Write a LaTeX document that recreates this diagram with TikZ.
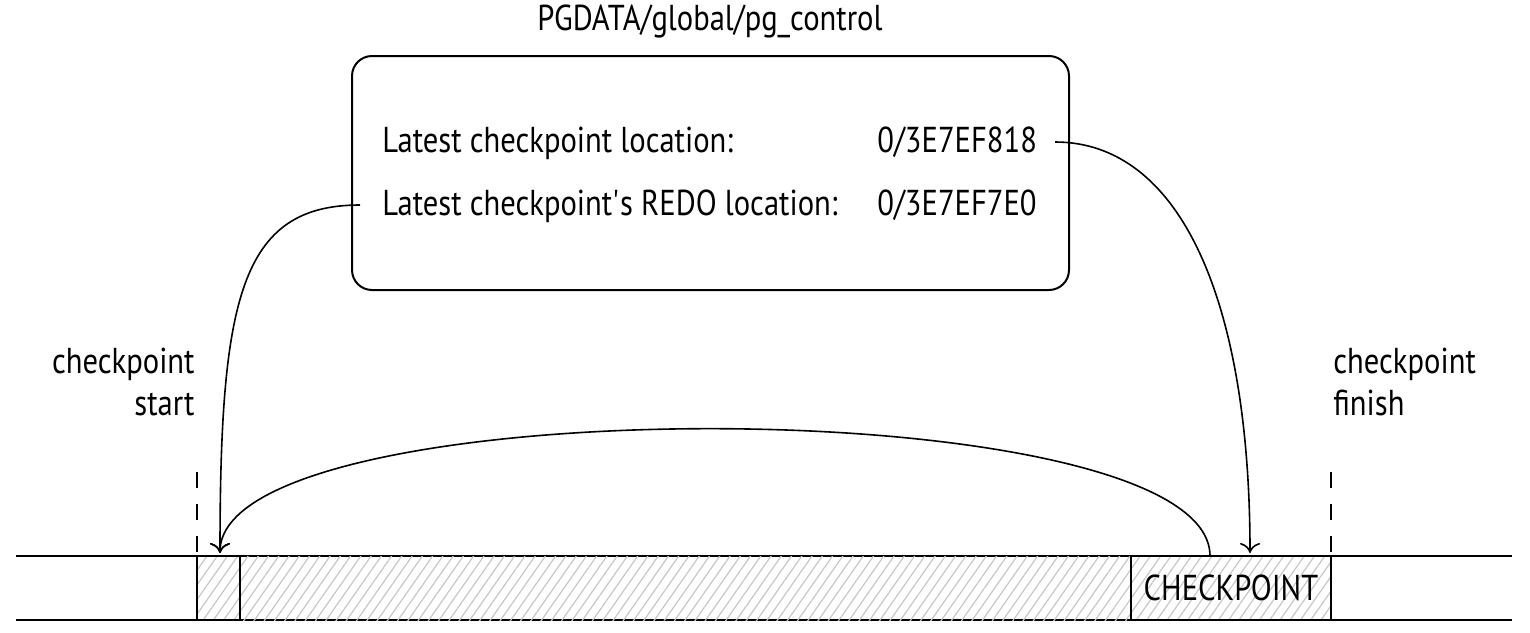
\documentclass[tikz,border=0pt]{standalone}
\usepackage{fontspec}
\setmainfont{PT Sans}[FakeStretch=0.85]
\usetikzlibrary{arrows.meta,patterns.meta}
\tikzset{
  txt/.style={inner sep=0pt, font=\fontsize{18pt}{21pt}\selectfont},
  hatch/.style={pattern={Lines[angle=55,distance=4.2pt,line width=0.6pt]}, pattern color=black!22},
  tl/.style={line width=1pt},
  conn/.style={line width=0.8pt, -{Computer Modern Rightarrow[width=10pt,length=5pt,line width=0.8pt]}},
  plain/.style={line width=0.8pt},
}
\begin{document}
\begin{tikzpicture}[x=0.5pt,y=-0.5pt]
\useasboundingbox (0,0) rectangle (1530,632);
% title
\node[txt, anchor=base] (title) at (710,30) {PGDATA/global/pg\_control};
% control file box
\draw[tl, rounded corners=10pt] (352,56) rectangle (1069,290);
\node[txt, anchor=base west] (l1) at (382,152) {Latest checkpoint location:};
\node[txt, anchor=base west] (l2) at (382,215) {Latest checkpoint\textquotesingle s REDO location:};
\node[txt, anchor=base west] (v1) at (877,152) {0/3E7EF818};
\node[txt, anchor=base west] (v2) at (877,215) {0/3E7EF7E0};
\coordinate (v1e) at (1055,142);
\coordinate (l2w) at (360,205);
% timeline
\draw[tl] (16,556) -- (1512,556);
\draw[tl] (16,620) -- (1512,620);
\path[hatch] (197,556) rectangle (1331,620);
\draw[tl] (197,556) rectangle (240,620);
\draw[tl] (1131,556) rectangle (1331,620);
\node[txt] (ckpt) at (1231,588) {CHECKPOINT};
\coordinate (startTip) at (220,553);
\coordinate (finTip) at (1250,553);
\coordinate (ckptTop) at (1210,556);
% dashed markers
\draw[tl, dash pattern=on 8pt off 8pt] (197,472) -- (197,556);
\draw[tl, dash pattern=on 8pt off 8pt] (1331,472) -- (1331,556);
% labels
\node[txt, anchor=base east] (cs) at (195,373) {checkpoint};
\node[txt, anchor=base east] (cs2) at (195,415) {start};
\node[txt, anchor=base west] (cf) at (1333,373) {checkpoint};
\node[txt, anchor=base west] (cf2) at (1333,415) {finish};
% connectors
\draw[conn] (l2w) .. controls (240,205) and (220,300) .. (startTip);
\draw[conn] (v1e) .. controls (1180,142) and (1250,300) .. (finTip);
\draw[conn] (ckptTop) .. controls (1210,387) and (220,387) .. (startTip);
\end{tikzpicture}
\end{document}
